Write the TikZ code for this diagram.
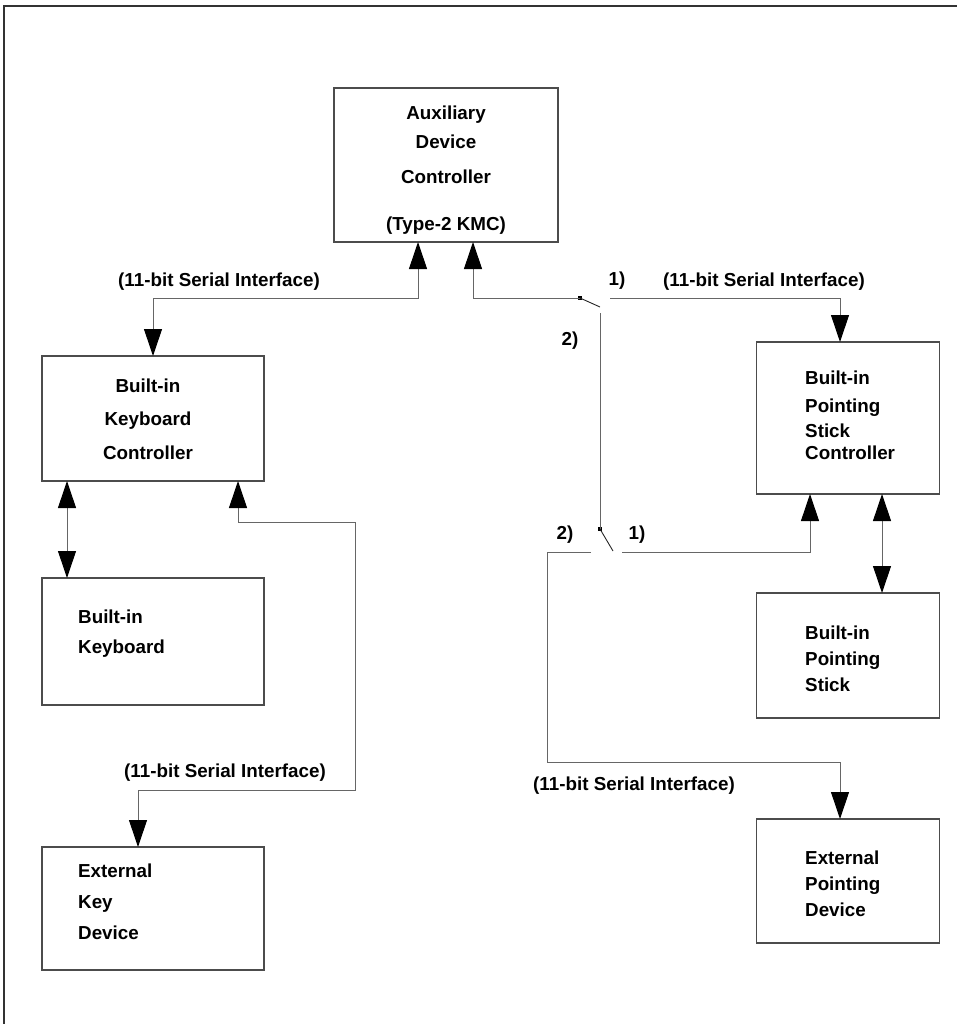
\documentclass[tikz,border=0pt]{standalone}
\usepackage{fontspec}
\setmainfont{Liberation Sans}
\usetikzlibrary{arrows.meta}
\begin{document}
\begin{tikzpicture}[x=1pt,y=-1pt,
  box/.style={draw=black!70, line width=1.2pt, inner sep=0pt, outer sep=0pt},
  conn/.style={draw=black!60, line width=1pt},
  blade/.style={draw=black!85, line width=0.9pt},
  head/.tip={Triangle[length=27pt,width=18pt,color=black]},
  tip/.style={-head},
  tips/.style={head-head},
  txt/.style={font=\bfseries\fontsize{18.8}{22}\selectfont, inner sep=0pt, anchor=base},
  ltxt/.style={txt, anchor=base west},
  dot/.style={fill=black, inner sep=0pt, minimum size=3.5pt, shape=rectangle}
]
\useasboundingbox (0,0) rectangle (957,1024);

% outer frame
\draw[line width=2pt, black!80] (957,6) -- (3.5,6) -- (3.5,1024);

% boxes
\node[box, minimum width=224pt, minimum height=154pt] (aux) at (446,165) {};
\node[box, minimum width=222pt, minimum height=125pt] (kbc) at (153,418.5) {};
\node[box, minimum width=222pt, minimum height=127pt] (kb)  at (153,641.5) {};
\node[box, minimum width=222pt, minimum height=123pt] (ekd) at (153,908.5) {};
\node[box, minimum width=183pt, minimum height=152pt] (psc) at (848,418) {};
\node[box, minimum width=183pt, minimum height=125pt] (ps)  at (848,655.5) {};
\node[box, minimum width=183pt, minimum height=124pt] (epd) at (848,881) {};

% box texts
\node[txt] (aux1) at (446,120) {Auxiliary};
\node[txt] (aux2) at (446,149) {Device};
\node[txt] (aux3) at (446,184) {Controller};
\node[txt] (aux4) at (446,230) {(Type-2 KMC)};

\node[txt] (kbc1) at (148,392) {Built-in};
\node[txt] (kbc2) at (148,425) {Keyboard};
\node[txt] (kbc3) at (148,459) {Controller};

\node[ltxt] (kb1) at (78,623) {Built-in};
\node[ltxt] (kb2) at (78,653) {Keyboard};

\node[ltxt] (ekd1) at (78,877) {External};
\node[ltxt] (ekd2) at (78,908) {Key};
\node[ltxt] (ekd3) at (78,939) {Device};

\node[ltxt] (psc1) at (805,384) {Built-in};
\node[ltxt] (psc2) at (805,412) {Pointing};
\node[ltxt] (psc3) at (805,437) {Stick};
\node[ltxt] (psc4) at (805,459) {Controller};

\node[ltxt] (ps1) at (805,639) {Built-in};
\node[ltxt] (ps2) at (805,665) {Pointing};
\node[ltxt] (ps3) at (805,691) {Stick};

\node[ltxt] (epd1) at (805,864) {External};
\node[ltxt] (epd2) at (805,890) {Pointing};
\node[ltxt] (epd3) at (805,916) {Device};

% interface labels
\node[txt] (lab1) at (219,286) {(11-bit Serial Interface)};
\node[txt] (lab2) at (764,286) {(11-bit Serial Interface)};
\node[txt] (lab3) at (225,777) {(11-bit Serial Interface)};
\node[txt] (lab4) at (634,790) {(11-bit Serial Interface)};

% switch position labels
\node[txt] (s1a) at (617,285) {1)};
\node[txt] (s1b) at (570,345) {2)};
\node[txt] (s2b) at (565,539) {2)};
\node[txt] (s2a) at (637,539) {1)};

% keyboard controller <-> auxiliary controller
\coordinate (k1) at (418,298);
\draw[conn, tips] (k1 |- aux.south) -- (k1) -- (k1 -| kbc.north) -- (kbc.north);

% upper switch
\node[dot] (sw1) at (580,298) {};
\coordinate (a2) at (473,298);
\draw[conn, tip] (sw1.center) -- (a2) -- (a2 |- aux.south);
\coordinate (b1) at (600,307);
\draw[blade] (sw1.center) -- (b1);

% switch position 1 to the pointing stick controller
\coordinate (r1) at (610,298);
\coordinate (r1c) at (840,298);
\draw[conn, tip] (r1) -- (r1c) -- (r1c |- psc.north);

% switch position 2 down to the lower switch
\coordinate (v1) at (600,313);
\node[dot] (sw2) at (600,529) {};
\draw[conn] (v1) -- (sw2.center);
\coordinate (b2) at (613,551);
\draw[blade] (sw2.center) -- (b2);

% lower switch position 1 to the pointing stick controller
\coordinate (r2) at (622,552);
\coordinate (r2c) at (810,552);
\draw[conn, tip] (r2) -- (r2c) -- (r2c |- psc.south);

% lower switch position 2 to the external pointing device
\coordinate (l2) at (591,552);
\coordinate (l2a) at (547,552);
\coordinate (l2b) at (547,762);
\coordinate (l2c) at (840,762);
\draw[conn, tip] (l2) -- (l2a) -- (l2b) -- (l2c) -- (l2c |- epd.north);

% keyboard controller <-> built-in keyboard
\coordinate (d1) at (67,500);
\draw[conn, tips] (d1 |- kbc.south) -- (d1 |- kb.north);

% pointing stick controller <-> built-in pointing stick
\coordinate (d2) at (882,540);
\draw[conn, tips] (d2 |- psc.south) -- (d2 |- ps.north);

% keyboard controller <-> external key device
\coordinate (m1) at (238,522);
\coordinate (m2) at (355,522);
\coordinate (m3) at (355,790);
\coordinate (m4) at (138,790);
\draw[conn, tips] (m1 |- kbc.south) -- (m1) -- (m2) -- (m3) -- (m4) -- (m4 |- ekd.north);
\end{tikzpicture}
\end{document}
